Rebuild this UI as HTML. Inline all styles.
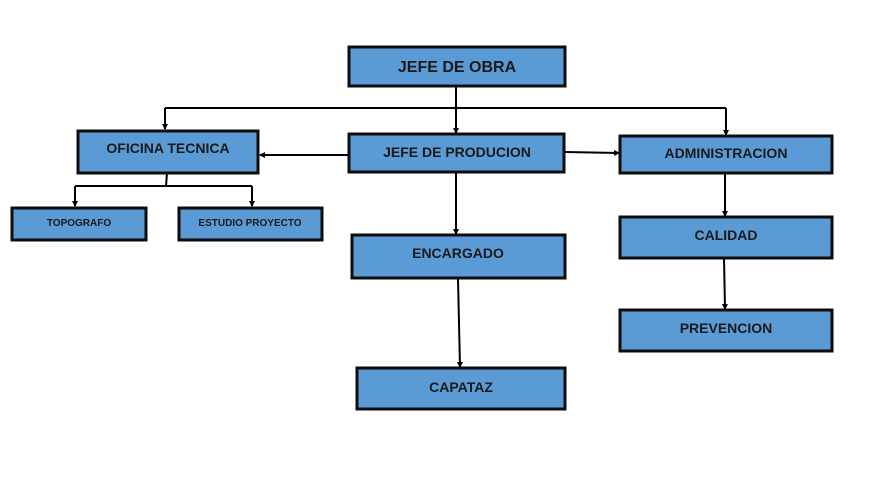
<!DOCTYPE html>
<html><head><meta charset="utf-8"><style>
html,body{margin:0;padding:0;background:#fff;}
text{font-family:"Liberation Sans",sans-serif;font-weight:bold;fill:#1a1a1a;text-anchor:middle;}
</style></head><body>
<svg width="886" height="475" xmlns="http://www.w3.org/2000/svg">
<defs><marker id="a" markerWidth="6" markerHeight="6" refX="5" refY="3" orient="auto" markerUnits="userSpaceOnUse"><path d="M0,0 L6,3 L0,6 z" fill="#000"/></marker></defs>
<g stroke="#000" stroke-width="2" fill="none">
<line x1="456" y1="86" x2="456" y2="108"/>
<line x1="165" y1="108" x2="726" y2="108"/>
<line x1="165" y1="108" x2="165" y2="129" marker-end="url(#a)"/>
<line x1="456" y1="108" x2="456" y2="133" marker-end="url(#a)"/>
<line x1="726" y1="108" x2="726" y2="135" marker-end="url(#a)"/>
<line x1="348" y1="155" x2="260" y2="155" marker-end="url(#a)"/>
<line x1="565" y1="152" x2="619" y2="153" marker-end="url(#a)"/>
<line x1="167" y1="173" x2="166" y2="186"/>
<line x1="75" y1="186" x2="252" y2="186"/>
<line x1="75" y1="186" x2="75" y2="206" marker-end="url(#a)"/>
<line x1="252" y1="186" x2="252" y2="206" marker-end="url(#a)"/>
<line x1="456" y1="172" x2="456" y2="234" marker-end="url(#a)"/>
<line x1="458" y1="279" x2="460" y2="367" marker-end="url(#a)"/>
<line x1="725" y1="173" x2="725" y2="216" marker-end="url(#a)"/>
<line x1="724" y1="258" x2="725" y2="309" marker-end="url(#a)"/>
</g>
<g fill="#5b9bd5" stroke="#0d0d0d" stroke-width="3">
<rect x="349" y="47" width="216" height="39"/>
<rect x="78" y="131" width="180" height="42"/>
<rect x="349" y="134" width="215" height="38"/>
<rect x="620" y="136" width="212" height="37"/>
<rect x="12" y="208" width="134" height="32"/>
<rect x="179" y="208" width="143" height="32"/>
<rect x="352" y="235" width="213" height="43"/>
<rect x="620" y="217" width="212" height="41"/>
<rect x="620" y="310" width="212" height="41"/>
<rect x="357" y="368" width="208" height="41"/>
</g>
<text x="457" y="72" font-size="16">JEFE DE OBRA</text>
<text x="168" y="153" font-size="14">OFICINA TECNICA</text>
<text x="457" y="157" font-size="14">JEFE DE PRODUCION</text>
<text x="726" y="158" font-size="14">ADMINISTRACION</text>
<text x="79" y="226" font-size="10">TOPOGRAFO</text>
<text x="250" y="226" font-size="10">ESTUDIO PROYECTO</text>
<text x="458" y="258" font-size="14">ENCARGADO</text>
<text x="726" y="240" font-size="14">CALIDAD</text>
<text x="726" y="333" font-size="14">PREVENCION</text>
<text x="461" y="392" font-size="14">CAPATAZ</text>
</svg>
</body></html>
